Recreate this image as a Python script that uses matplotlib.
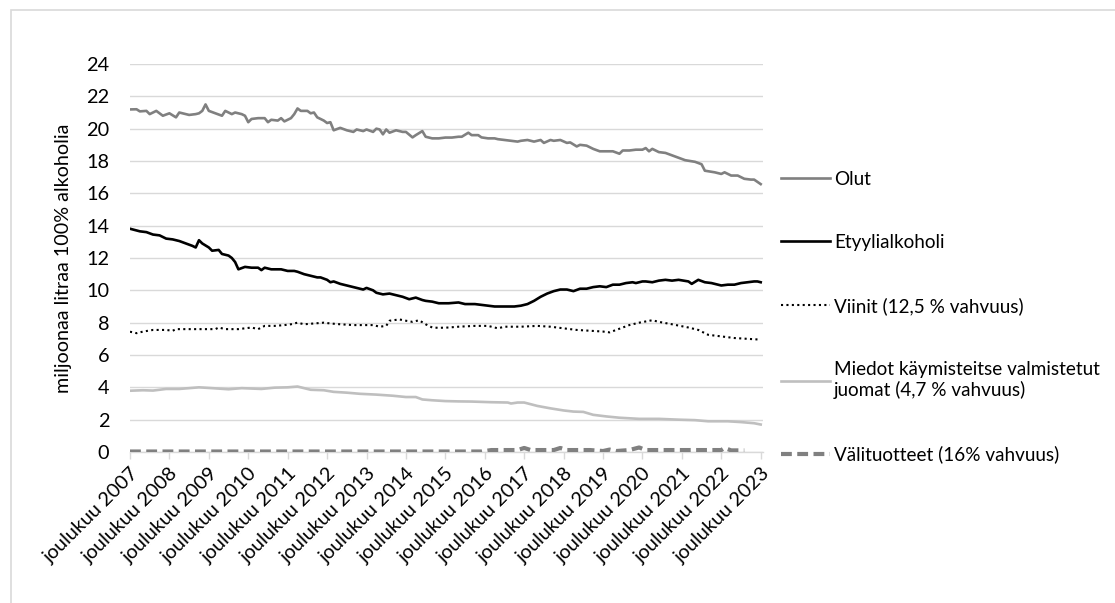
import matplotlib
matplotlib.use("Agg")
import matplotlib.pyplot as plt
from matplotlib.patches import Rectangle

plt.rcParams['font.family'] = ['Lato', 'DejaVu Sans']

# ---- data (month index 0 = joulukuu 2007, 192 = joulukuu 2023) ----
tick_labels = ["joulukuu %d" % y for y in range(2007, 2024)]

olut_m = [0, 2, 3, 5, 6, 8, 10, 12, 14, 15, 18, 20, 21, 22, 23, 24, 26, 28, 29, 31, 32, 34, 35, 36,
          37, 39, 41, 42, 43, 45, 46, 47, 49, 50, 51, 52, 54, 55, 56, 57, 59, 60, 61, 62, 64, 66,
          68, 69, 71, 72, 74, 75, 76, 77, 78, 79, 81, 83, 84, 86, 87, 89, 90, 92, 94, 96, 98, 100,
          101, 103, 104, 106, 107, 109, 111, 112, 114, 116, 118, 119, 121, 123, 125, 126, 128, 129,
          131, 133, 134, 136, 137, 139, 141, 143, 145, 147, 149, 150, 152, 154, 156, 157, 158, 159,
          161, 163, 165, 167, 169, 172, 174, 175, 178, 180, 181, 183, 185, 187, 189, 190, 192]
olut_v = [21.19, 21.2, 21.07, 21.1, 20.9, 21.1, 20.8, 20.95, 20.7, 21.0, 20.85, 20.9, 20.95, 21.1, 21.5,
          21.1, 20.95, 20.8, 21.1, 20.9, 21.0, 20.9, 20.8, 20.4, 20.6, 20.65, 20.65, 20.4, 20.55, 20.5,
          20.65, 20.45, 20.65, 20.9, 21.25, 21.1, 21.1, 20.95, 21.0, 20.7, 20.5, 20.35, 20.4, 19.9,
          20.05, 19.9, 19.8, 19.95, 19.85, 19.95, 19.8, 20.0, 19.95, 19.65, 19.95, 19.75, 19.9, 19.8,
          19.8, 19.46, 19.6, 19.85, 19.5, 19.4, 19.4, 19.45, 19.45, 19.5, 19.5, 19.75, 19.6, 19.6,
          19.46, 19.4, 19.4, 19.35, 19.3, 19.25, 19.2, 19.25, 19.3, 19.2, 19.3, 19.12, 19.3, 19.25,
          19.3, 19.12, 19.15, 18.9, 19.0, 18.95, 18.75, 18.6, 18.6, 18.6, 18.45, 18.65, 18.65, 18.7,
          18.7, 18.8, 18.6, 18.75, 18.55, 18.5, 18.35, 18.2, 18.05, 17.95, 17.8, 17.4, 17.3, 17.2,
          17.3, 17.1, 17.1, 16.9, 16.85, 16.85, 16.57]

etyyli_m = [0, 3, 5, 7, 9, 11, 13, 15, 17, 19, 20, 21, 22, 24, 25, 27, 28, 30, 31, 32, 33, 35, 37, 39,
            40, 41, 43, 46, 48, 50, 51, 53, 55, 57, 58, 60, 61, 62, 64, 66, 68, 70, 71, 72, 74, 75,
            77, 79, 81, 83, 85, 86, 87, 89, 90, 92, 94, 97, 100, 102, 105, 107, 109, 111, 114, 117,
            119, 121, 123, 125, 127, 129, 131, 133, 135, 137, 139, 141, 143, 145, 147, 149, 151, 153,
            154, 156, 157, 159, 161, 163, 165, 167, 170, 171, 173, 175, 177, 179, 180, 182, 184, 186,
            188, 190, 191, 192]
etyyli_v = [13.81, 13.65, 13.6, 13.45, 13.4, 13.2, 13.15, 13.05, 12.9, 12.75, 12.65, 13.1, 12.9, 12.65,
            12.45, 12.5, 12.25, 12.15, 12.0, 11.75, 11.3, 11.45, 11.4, 11.4, 11.25, 11.4, 11.3, 11.3,
            11.2, 11.2, 11.15, 11.0, 10.9, 10.8, 10.8, 10.65, 10.5, 10.55, 10.4, 10.3, 10.2, 10.1,
            10.05, 10.15, 10.0, 9.85, 9.75, 9.8, 9.7, 9.6, 9.45, 9.5, 9.55, 9.4, 9.35, 9.3, 9.2, 9.2,
            9.25, 9.15, 9.15, 9.1, 9.05, 9.0, 9.0, 9.0, 9.05, 9.15, 9.35, 9.6, 9.8, 9.95, 10.05, 10.05,
            9.95, 10.1, 10.1, 10.2, 10.25, 10.2, 10.35, 10.35, 10.45, 10.5, 10.45, 10.55, 10.55, 10.5,
            10.6, 10.65, 10.6, 10.65, 10.55, 10.4, 10.65, 10.5, 10.45, 10.35, 10.3, 10.35, 10.35,
            10.45, 10.5, 10.55, 10.55, 10.5]

viinit_m = [0, 2, 4, 7, 11, 13, 14, 17, 21, 26, 27, 29, 33, 37, 39, 41, 44, 47, 49, 51, 53, 56, 59, 61,
            64, 68, 71, 74, 76, 78, 79, 82, 84, 86, 88, 90, 92, 94, 97, 100, 105, 109, 111, 112, 114,
            119, 124, 128, 132, 136, 140, 144, 146, 148, 150, 152, 155, 159, 161, 165, 170, 173, 176,
            180, 184, 188, 192]
viinit_v = [7.44, 7.35, 7.45, 7.55, 7.55, 7.5, 7.6, 7.6, 7.6, 7.6, 7.7, 7.6, 7.6, 7.7, 7.6, 7.8, 7.8,
            7.85, 7.9, 8.0, 7.9, 7.95, 8.0, 7.95, 7.9, 7.85, 7.85, 7.85, 7.75, 7.8, 8.12, 8.2, 8.12,
            8.05, 8.15, 7.9, 7.7, 7.68, 7.7, 7.75, 7.8, 7.8, 7.7, 7.65, 7.75, 7.75, 7.8, 7.75, 7.65,
            7.55, 7.5, 7.45, 7.4, 7.55, 7.7, 7.85, 8.0, 8.15, 8.05, 7.9, 7.7, 7.55, 7.25, 7.15, 7.05,
            7.0, 6.95]

miedot_m = [0, 4, 7, 11, 15, 21, 25, 30, 34, 40, 44, 48, 51, 55, 59, 62, 66, 70, 75, 80, 84, 87, 89,
            92, 96, 100, 104, 110, 115, 116, 118, 120, 124, 128, 132, 135, 138, 141, 145, 149, 155,
            161, 167, 172, 176, 182, 186, 190, 192]
miedot_v = [3.79, 3.82, 3.8, 3.9, 3.9, 4.0, 3.95, 3.88, 3.95, 3.9, 3.98, 4.0, 4.05, 3.85, 3.82, 3.72,
            3.67, 3.6, 3.55, 3.48, 3.4, 3.4, 3.25, 3.2, 3.15, 3.13, 3.12, 3.08, 3.06, 3.0, 3.06, 3.06,
            2.85, 2.7, 2.57, 2.5, 2.48, 2.3, 2.2, 2.12, 2.05, 2.05, 2.0, 1.97, 1.9, 1.9, 1.85, 1.78, 1.7]

valit_m = [0, 30, 60, 90, 107, 110, 118, 120, 122, 129, 131, 133, 140, 144, 146, 148, 152, 155, 157,
           170, 180, 181, 183, 187]
valit_v = [0.03, 0.03, 0.03, 0.03, 0.03, 0.12, 0.12, 0.25, 0.12, 0.12, 0.25, 0.12, 0.12, 0.06, 0.15,
           0.06, 0.12, 0.28, 0.12, 0.12, 0.12, 0.25, 0.1, 0.1]

labels = ["Olut", "Etyylialkoholi", "Viinit (12,5 % vahvuus)",
          "Miedot käymisteitse valmistetut\njuomat (4,7 % vahvuus)", "Välituotteet (16% vahvuus)"]

# ---- figure ----
W, H = 1115, 603
fig = plt.figure(figsize=(W / 100, H / 100), dpi=100)
ax = fig.add_axes([130 / W, 1 - 452 / H, (763 - 130) / W, (452 - 64) / H])

grid_c = '#d9d9d9'
ax.plot(olut_m, olut_v, color='#808080', lw=1.9, label=labels[0], solid_joinstyle='round')
ax.plot(etyyli_m, etyyli_v, color='#000000', lw=1.9, label=labels[1], solid_joinstyle='round')
ax.plot(viinit_m, viinit_v, color='#000000', lw=1.5, linestyle=(0, (1, 1.6)),
        dash_capstyle='butt', label=labels[2])
ax.plot(miedot_m, miedot_v, color='#bfbfbf', lw=1.9, label=labels[3], solid_joinstyle='round')
ax.plot(valit_m, valit_v, color='#808080', lw=3.0, linestyle=(0, (2.6, 1.3)),
        dash_capstyle='butt', label=labels[4])

ax.set_xlim(0, 192.7)
ax.set_ylim(0, 24)
ax.set_yticks(range(0, 25, 2))
ax.yaxis.grid(True, color=grid_c, lw=1.0)
ax.set_axisbelow(True)
for s in ['left', 'right', 'top']:
    ax.spines[s].set_visible(False)
ax.spines['bottom'].set_color(grid_c)
ax.spines['bottom'].set_linewidth(1.0)
ax.spines['bottom'].set_zorder(0.5)

ax.set_xticks(range(0, 193, 12))
ax.set_xticklabels(tick_labels, rotation=45, ha='right', rotation_mode='anchor', fontsize=14.3,
                   color='#000000')
ax.tick_params(axis='x', length=5, color=grid_c, width=1.0, pad=4)
ax.tick_params(axis='y', length=0, pad=15, labelsize=14.3)

ax.set_ylabel("miljoonaa litraa 100% alkoholia", fontsize=14.2)
ax.yaxis.set_label_coords(-0.092, 0.5)

ax.legend(loc='center left', bbox_to_anchor=(781 / W, 1 - 317 / H), bbox_transform=fig.transFigure,
          frameon=False, fontsize=13.6, handlelength=2.6, handletextpad=0.2, labelspacing=2.45,
          borderpad=0, borderaxespad=0)

fig.add_artist(Rectangle((11 / W, -0.1), 1.2, (H - 10) / H + 0.1, transform=fig.transFigure,
                         fill=False, edgecolor=grid_c, lw=1.2))

fig.savefig("out.png", dpi=100)
